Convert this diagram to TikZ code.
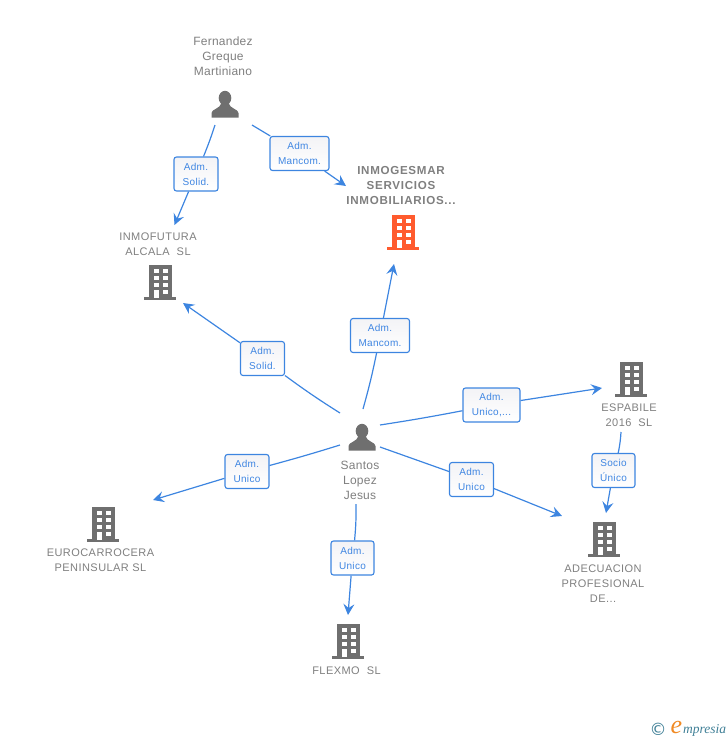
\documentclass[tikz,border=0pt]{standalone}
\usepackage{fontspec}
\setmainfont{Liberation Sans}
\newfontfamily\logoserif{Liberation Serif}
\newfontfamily\logosym{DejaVu Sans}
\usetikzlibrary{arrows.meta}
\definecolor{edgeblue}{HTML}{3D85E0}
\definecolor{labelblue}{HTML}{3F86E2}
\definecolor{icongray}{HTML}{6F6F6F}
\definecolor{textgray}{HTML}{7F7F7F}
\definecolor{hub}{HTML}{FF5B2E}
\definecolor{logoteal}{HTML}{3F7F96}
\definecolor{logoorange}{HTML}{F08A24}
\definecolor{boxtop}{HTML}{F3F3F6}
\tikzset{
  x=1pt,y=-1pt,
  conn/.style={draw=edgeblue,line width=1.2pt},
  arr/.style={conn,-{Stealth[length=11pt,width=11pt,inset=4pt]}},
  rel/.style={draw=edgeblue,line width=1.1pt,rounded corners=2.5pt,top color=boxtop,bottom color=white,
    text=labelblue,font=\fontsize{10}{15}\selectfont\addfontfeatures{LetterSpace=3},align=center,
    inner sep=0pt,minimum height=34pt},
  lab/.style={text=textgray,font=\fontsize{11}{15}\selectfont\addfontfeatures{LetterSpace=4},align=center,inner sep=0pt},
  perlab/.style={lab,font=\fontsize{12}{15}\selectfont\addfontfeatures{LetterSpace=2}},
  hublab/.style={lab,font=\fontsize{11.6}{15}\selectfont\bfseries\addfontfeatures{LetterSpace=6}},
  pics/building/.style={code={
    \fill[#1] (-16,15) rectangle (16,17.5);
    \fill[#1] (-11.5,-17) rectangle (12,16);
    \foreach \r in {-13,-6,1}{
      \fill[white] (-6.5,\r) rectangle (-1.5,\r+3.8);
      \fill[white] (3,\r) rectangle (8,\r+3.8);
    }
    \fill[white] (3,8) rectangle (8,11.8);
    \fill[white] (-6.5,8) rectangle (-1.5,16);
  }},
  pics/person/.style={code={
    \fill[icongray] (0,-6) ellipse (6.3 and 7.2);
    \fill[icongray] (-13.5,13.5) -- (-13.5,9) .. controls (-13.5,5) and (-5,5) .. (-3.5,-1)
      -- (3.5,-1) .. controls (5,5) and (13.5,5) .. (13.5,9) -- (13.5,13.5) -- cycle;
  }}
}
\begin{document}
\begin{tikzpicture}
\useasboundingbox (0,0) rectangle (728,740);
% icons
\pic at (225,104) {person};
\pic at (362,437) {person};
\pic at (403,232) {building=hub};
\pic at (160,282) {building=icongray};
\pic at (631,379) {building=icongray};
\pic at (604,539) {building=icongray};
\pic at (103,524) {building=icongray};
\pic at (348,641) {building=icongray};
% entity labels
\node[perlab] (fernandez) at (223,56) {Fernandez\\Greque\\Martiniano};
\node[hublab] (inmogesmar) at (401,185.5) {INMOGESMAR\\SERVICIOS\\INMOBILIARIOS...};
\node[lab] (inmofutura) at (158,244) {INMOFUTURA\\ALCALA\ \ SL};
\node[perlab] (santos) at (360,480) {Santos\\Lopez\\Jesus};
\node[lab] (espabile) at (629,415.5) {ESPABILE\\2016\ \ SL};
\node[lab] (adecuacion) at (603,583.5) {ADECUACION\\PROFESIONAL\\DE...};
\node[lab] (eurocarrocera) at (100.5,560.5) {EUROCARROCERA\\PENINSULAR SL};
\node[lab] (flexmo) at (346.5,671) {FLEXMO\ \ SL};
% relation labels
\node[rel,minimum width=44pt] (r1) at (196,174) {Adm.\\Solid.};
\node[rel,minimum width=59pt] (r2) at (299.5,153.5) {Adm.\\Mancom.};
\node[rel,minimum width=59pt] (r3) at (380,335.5) {Adm.\\Mancom.};
\node[rel,minimum width=44pt] (r4) at (262.5,358.5) {Adm.\\Solid.};
\node[rel,minimum width=57pt] (r5) at (491.5,405) {Adm.\\Unico,...};
\node[rel,minimum width=44pt] (r6) at (471.5,479.5) {Adm.\\Unico};
\node[rel,minimum width=44pt] (r7) at (247,471.5) {Adm.\\Unico};
\node[rel,minimum width=43pt] (r8) at (352.5,558) {Adm.\\Unico};
\node[rel,minimum width=43pt] (r9) at (613.5,470.5) {Socio\\Único};
% connector ends
\coordinate (s1) at (215,125);   \coordinate (e1) at (174.5,225);
\coordinate (s2) at (252,125);   \coordinate (e2) at (346,186);
\coordinate (s3) at (363,409);   \coordinate (e3) at (394,264);
\coordinate (s4) at (340,413);   \coordinate (e4) at (183,303);
\coordinate (s5) at (380,425);   \coordinate (e5) at (602,388);
\coordinate (s6) at (380,447);   \coordinate (e6) at (562,516);
\coordinate (s7) at (340,445);   \coordinate (e7) at (153,500);
\coordinate (s8) at (356,504);   \coordinate (e8) at (348,615);
\coordinate (s9) at (621,432);   \coordinate (e9) at (606,513);
% connectors
\draw[conn] (s1) to[bend left=2] (r1);   \draw[arr] (r1) -- (e1);
\draw[conn] (s2) -- (r2);                \draw[arr] (r2) -- (e2);
\draw[conn] (s3) to[bend right=2] (r3);  \draw[arr] (r3) -- (e3);
\draw[conn] (s4) to[bend left=2] (r4);   \draw[arr] (r4) -- (e4);
\draw[conn] (s5) to[bend right=1] (r5);  \draw[arr] (r5) -- (e5);
\draw[conn] (s6) -- (r6);                \draw[arr] (r6) -- (e6);
\draw[conn] (s7) to[bend left=1] (r7);   \draw[arr] (r7) -- (e7);
\draw[conn] (s8) to[bend left=3] (r8);   \draw[arr] (r8) -- (e8);
\draw[conn] (s9) to[bend left=4] (r9);   \draw[arr] (r9) -- (e9);
% logo
\node[inner sep=0pt,text=logoteal,font=\logosym\fontsize{17}{17}\selectfont] (copyr) at (658,729.5) {©};
\node[inner sep=0pt,text=logoorange,font=\logoserif\itshape\fontsize{26}{26}\selectfont] (logoe) at (676.5,727) {e};
\node[inner sep=0pt,anchor=west,text=logoteal,font=\logoserif\itshape\fontsize{13.5}{13.5}\selectfont] (logot) at (683,730) {mpresia};
\end{tikzpicture}
\end{document}
